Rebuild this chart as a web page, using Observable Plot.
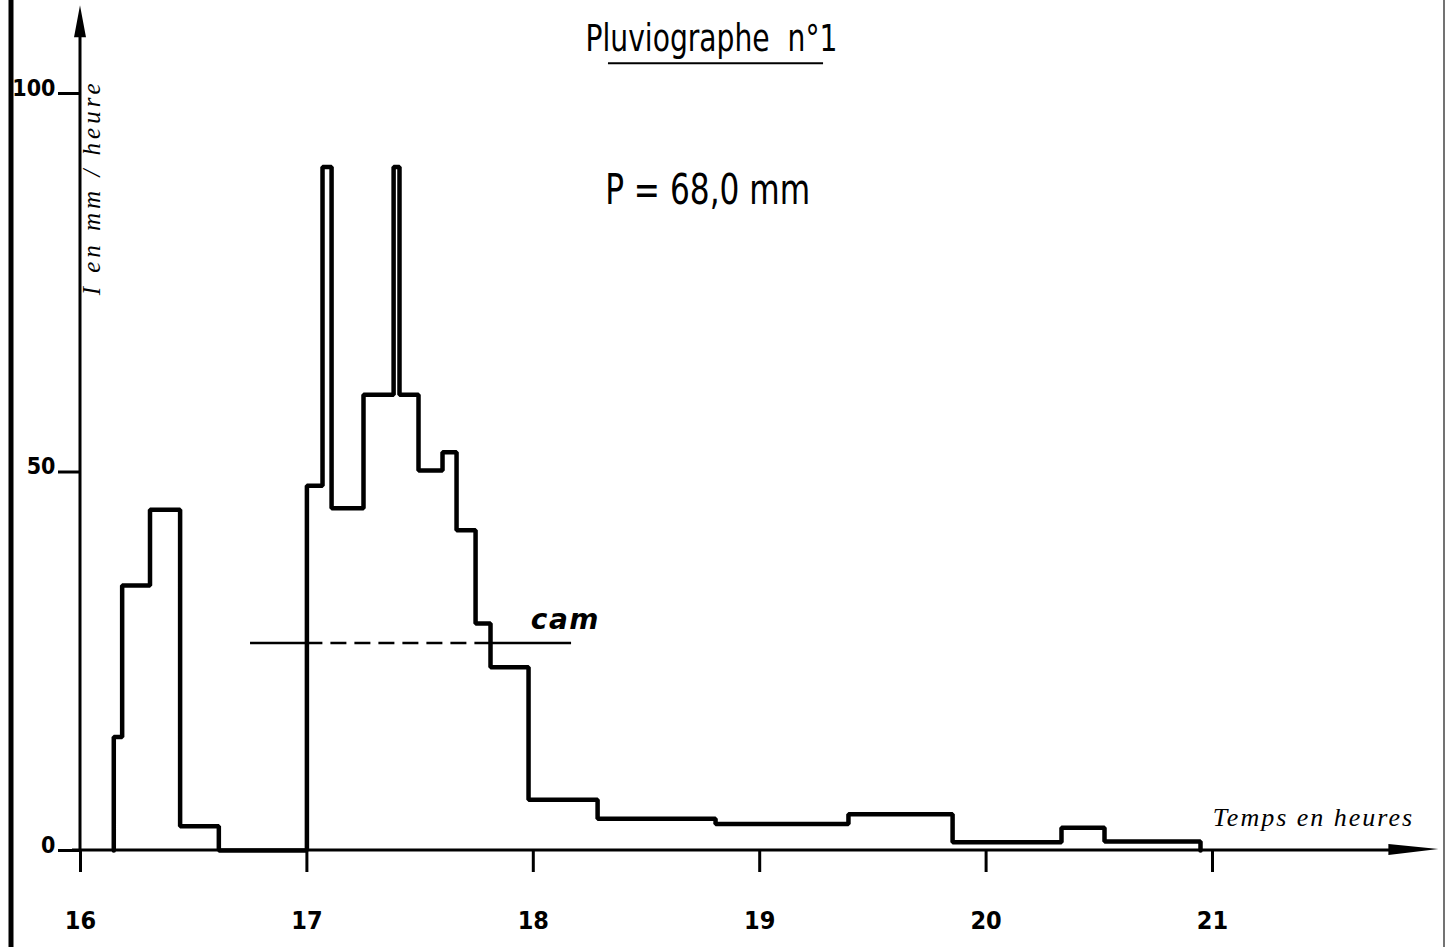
<!DOCTYPE html>
<html><head><meta charset="utf-8">
<script src="https://cdn.jsdelivr.net/npm/d3@7"></script>
<script src="https://cdn.jsdelivr.net/npm/@observablehq/plot@0.6"></script>
<style>html,body{margin:0;padding:0;background:#fff;} #chart svg{display:block;}</style>
</head><body><div id="chart"></div>
<script>
// Hour ticks and intensity ticks
const hours = [16, 17, 18, 19, 20, 21];
const intensityTicks = [0, 50, 100];
// Hyetograph: interval edges (hours) and intensity (mm/h) per interval
const edges = [16.147, 16.184, 16.307, 16.44, 16.611, 17.0, 17.069, 17.109, 17.25, 17.383, 17.409, 17.493, 17.599, 17.661, 17.745, 17.811, 17.979, 18.284, 18.805, 19.392, 19.852, 20.333, 20.523, 20.947];
const intensity = [15, 35, 45, 3.2, 0, 48.2, 90.3, 45.2, 60.2, 90.3, 60.2, 50.2, 52.6, 42.3, 30.0, 24.2, 6.7, 4.2, 3.5, 4.8, 1.1, 3.0, 1.2];
// cam level line
const camValue = 27.4;
const camSolid = [[16.751, 17.0], [17.811, 18.169]];
const camDashed = [[17.0, 17.811]];

const narrow = "'Liberation Sans Narrow', 'DejaVu Sans Condensed', 'Liberation Sans', sans-serif";
const serifItalic = "'Liberation Serif', 'DejaVu Serif', serif";

const pts = [{t: edges[0], v: 0}, ...intensity.map((v, i) => ({t: edges[i], v})), {t: edges[edges.length - 1], v: 0}];

const decorations = (index, scales, values, dims) => {
  const {x, y} = scales;
  const g = d3.create("svg:g");
  const x0 = x(16), y0 = y(0);
  const yTop = y(111.6), xEnd = x(22);
  // y axis line + arrow
  g.append("line").attr("x1", x0).attr("x2", x0).attr("y1", y0).attr("y2", yTop + 20)
    .attr("stroke", "#000").attr("stroke-width", 3);
  g.append("path").attr("d", `M${x0},${yTop} L${x0 - 6},${yTop + 32} L${x0 + 6},${yTop + 32} Z`).attr("fill", "#000");
  // x axis line + arrow
  g.append("line").attr("x1", x0 - 8).attr("x2", xEnd - 30).attr("y1", y0).attr("y2", y0)
    .attr("stroke", "#000").attr("stroke-width", 3);
  g.append("path").attr("d", `M${xEnd},${y0 - 1} L${xEnd - 50},${y0 - 6} L${xEnd - 50},${y0 + 5} Z`).attr("fill", "#000");
  // page borders
  g.append("line").attr("x1", 11).attr("x2", 11).attr("y1", 0).attr("y2", dims.height).attr("stroke", "#000").attr("stroke-width", 5);
  g.append("line").attr("x1", dims.width - 2).attr("x2", dims.width - 2).attr("y1", 0).attr("y2", dims.height).attr("stroke", "#444").attr("stroke-width", 1.5);
  return g.node();
};

const plot = Plot.plot({
  width: 1446,
  height: 947,
  marginLeft: 80,
  marginRight: 234,
  marginTop: 93,
  marginBottom: 97,
  x: {domain: [16, 21]},
  y: {domain: [0, 100]},
  style: {background: "#fff", color: "#000", overflow: "visible"},
  marks: [
    decorations,
    Plot.axisX(hours, {tickSize: 22, tickPadding: 39, fontSize: 25, fontWeight: "bold", fontFamily: narrow, strokeWidth: 3, tickFormat: d => String(d), label: null}),
    Plot.axisY(intensityTicks, {tickSize: 22, tickFormat: () => "", strokeWidth: 3, label: null}),
    Plot.text(intensityTicks, {y: d => d, frameAnchor: "left", dx: -25, dy: -5, textAnchor: "end", text: d => String(d), fontSize: 23, fontWeight: "bold", fontFamily: narrow}),
    // hyetograph
    Plot.line(pts, {x: "t", y: "v", curve: "step-after", stroke: "#000", strokeWidth: 4.5, strokeLinejoin: "miter"}),
    // cam line
    Plot.ruleY(camSolid, {x1: d => d[0], x2: d => d[1], y: () => camValue, stroke: "#000", strokeWidth: 2.5}),
    Plot.ruleY(camDashed, {x1: d => d[0], x2: d => d[1], y: () => camValue, stroke: "#000", strokeWidth: 2.5, strokeDasharray: "16,8"}),
    // title underline
    Plot.ruleY([104.0], {x1: 18.332, x2: 19.282, stroke: "#000", strokeWidth: 2}),
    // texts
    Plot.text(["Pluviographe  n°1"], {x: 18.787, y: 107.2, fontSize: 37, fontFamily: narrow}),
    Plot.text(["P = 68,0 mm"], {x: 18.77, y: 87.2, fontSize: 43, fontFamily: narrow}),
    Plot.text(["cam"], {x: 18.142, y: 30.5, fontSize: 28, fontWeight: "bold", fontStyle: "italic", fontFamily: "'DejaVu Sans', sans-serif"}),
    Plot.text(["Temps en heures"], {x: 21.446, y: 4.4, fontSize: 26, fontStyle: "italic", fontFamily: serifItalic}),
    Plot.text(["I en mm / heure"], {x: 16.053, y: 87.6, rotate: -90, fontSize: 25, fontStyle: "italic", fontFamily: serifItalic})
  ]
});

document.getElementById("chart").appendChild(plot);
const textGroups = plot.querySelectorAll('g[aria-label="text"]');
const spacing = [0, 0, 0, 1.5, 2, 4];
const lengths = [0, 252, 205, 0, 0, 0];
textGroups.forEach((g, i) => {
  if (spacing[i]) g.setAttribute("letter-spacing", spacing[i]);
  if (lengths[i]) g.querySelectorAll("text").forEach(t => {
    t.setAttribute("textLength", lengths[i]);
    t.setAttribute("lengthAdjust", "spacingAndGlyphs");
    t.setAttribute("xml:space", "preserve");
    t.style.whiteSpace = "pre";
  });
});
</script>
</body></html>
